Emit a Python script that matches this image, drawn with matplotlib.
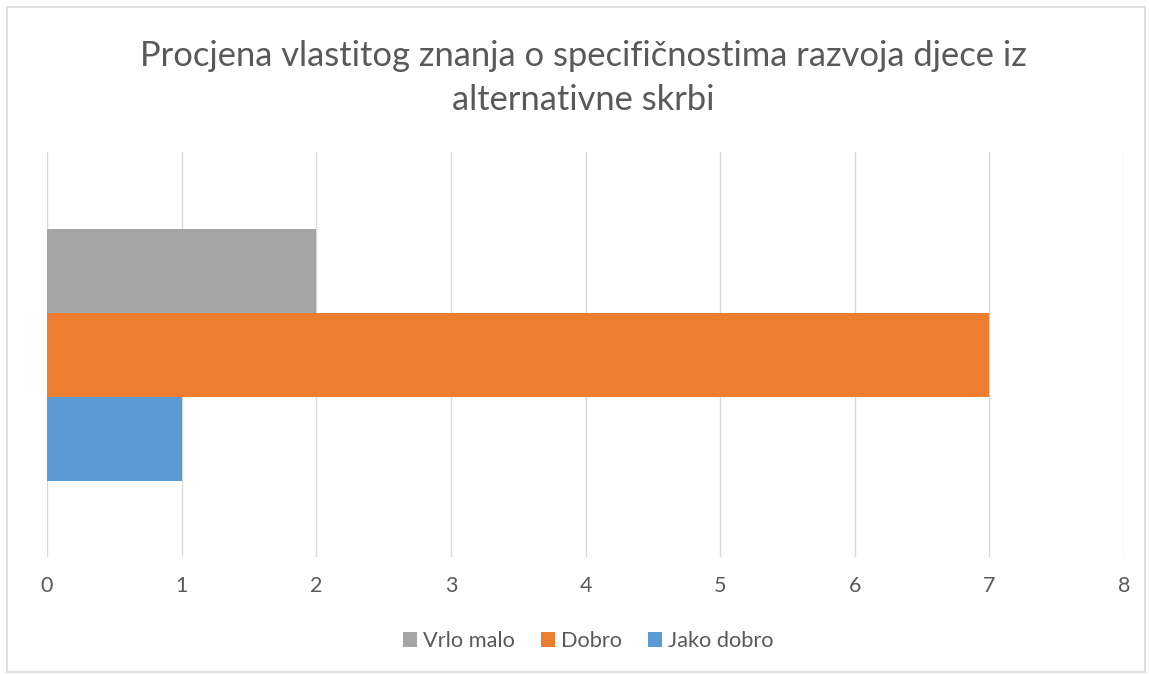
import matplotlib
matplotlib.use("Agg")
import matplotlib.pyplot as plt
from matplotlib.patches import Patch, Rectangle

title = "Procjena vlastitog znanja o specifičnostima razvoja djece iz\nalternativne skrbi"
series = ["Vrlo malo", "Dobro", "Jako dobro"]
values = [2, 7, 1]
colors = ["#A5A5A5", "#ED7D31", "#5B9BD5"]
xticks = [0, 1, 2, 3, 4, 5, 6, 7, 8]

plt.rcParams['font.family'] = ['Lato', 'DejaVu Sans']
text_color = "#595959"
grid_color = "#D9D9D9"

W, H = 1149, 674
fig = plt.figure(figsize=(W / 100, H / 100), dpi=100)
fig.patch.set_facecolor("white")

# outer chart frame
fig.patches.append(Rectangle((7 / W, 2 / H), (1145 - 7) / W, (667 - 2) / H,
                             transform=fig.transFigure, fill=False,
                             edgecolor=grid_color, linewidth=1.2))

ax = fig.add_axes([47 / W, (H - 557) / H, (1124 - 47) / W, (557 - 152) / H])

bar_h = 84 / 405
offsets = [bar_h, 0, -bar_h]
for name, v, c, off in zip(series, values, colors, offsets):
    ax.barh(off, v, height=bar_h, color=c, label=name, zorder=2)

ax.set_xlim(0, 8)
ax.set_ylim(-0.5, 0.5)
ax.set_xticks(xticks)
ax.set_xticklabels([str(t) for t in xticks])
ax.set_yticks([])
ax.grid(axis="x", color=grid_color, linewidth=1.0, zorder=0)
for s in ax.spines.values():
    s.set_visible(False)
ax.tick_params(axis="x", length=0, pad=14, labelsize=15.5, labelcolor=text_color)

fig.text(583.5 / W, (H - 78) / H, title, ha="center", va="center", fontsize=24.8,
         color=text_color, linespacing=1.45)

handles = [Patch(facecolor=c, label=n) for n, c in zip(series, colors)]
leg = fig.legend(handles=handles, loc="center", bbox_to_anchor=(588 / W, (H - 641) / H),
                 ncol=3, frameon=False, fontsize=15.7, handlelength=0.64,
                 handleheight=0.64, handletextpad=0.28, columnspacing=1.2,
                 labelcolor=text_color)

fig.savefig("out.png", dpi=100, facecolor="white")
